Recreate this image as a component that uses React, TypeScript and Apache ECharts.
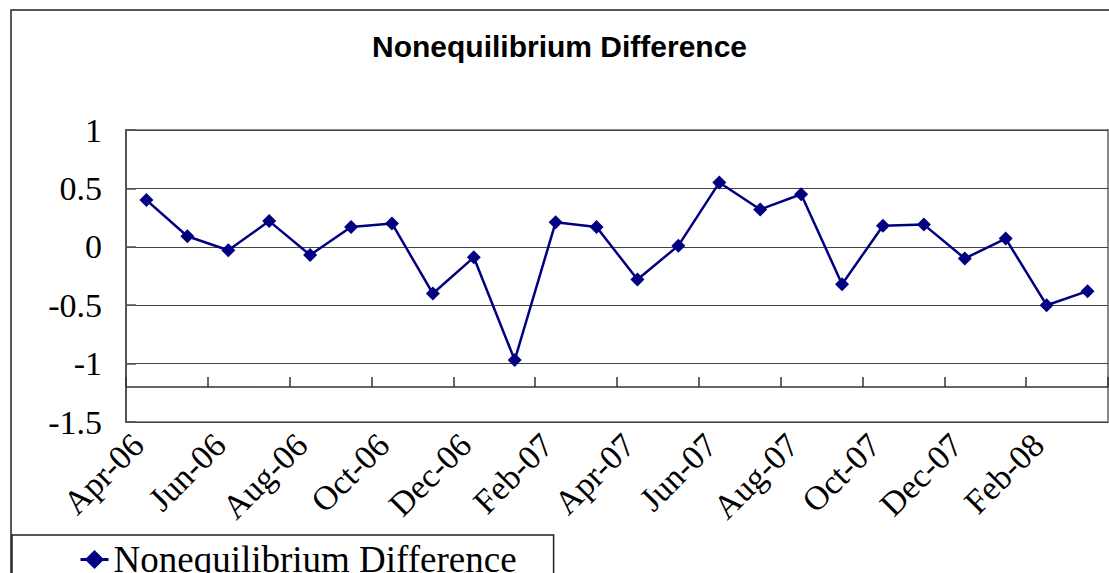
import React, { useEffect, useRef } from "react";
import * as echarts from "echarts";

const categories = [
  "Apr-06", "May-06", "Jun-06", "Jul-06", "Aug-06", "Sep-06", "Oct-06", "Nov-06",
  "Dec-06", "Jan-07", "Feb-07", "Mar-07", "Apr-07", "May-07", "Jun-07", "Jul-07",
  "Aug-07", "Sep-07", "Oct-07", "Nov-07", "Dec-07", "Jan-08", "Feb-08", "Mar-08",
];
const seriesName = "Nonequilibrium Difference";
const values = [
  0.40, 0.09, -0.03, 0.22, -0.07, 0.17, 0.20, -0.40,
  -0.09, -0.97, 0.21, 0.17, -0.28, 0.01, 0.55, 0.32,
  0.45, -0.32, 0.18, 0.19, -0.10, 0.07, -0.50, -0.38,
];
const Y_MIN = -1.5;
const Y_MAX = 1;
const Y_STEP = 0.5;
const X_CROSS = -1.2;

const W = 1109;
const H = 573;
const GRID = { left: 126, top: 130, right: 1, bottom: 151 };

export default function App() {
  const ref = useRef<HTMLDivElement>(null);
  useEffect(() => {
    if (!ref.current) return;
    const chart = echarts.init(ref.current, undefined, { renderer: "svg" });
    const gridH = H - GRID.top - GRID.bottom;
    const xOffset = -((X_CROSS - Y_MIN) / (Y_MAX - Y_MIN)) * gridH;
    const serif = "'Liberation Serif', 'DejaVu Serif', serif";
    chart.setOption({
      animation: false,
      backgroundColor: "#ffffff",
      title: {
        text: seriesName,
        left: 372,
        top: 31,
        padding: 0,
        textStyle: {
          fontFamily: "'Liberation Sans', Arial, sans-serif",
          fontWeight: "bold",
          fontSize: 30,
          color: "#000",
        },
      },
      graphic: [
        {
          type: "rect",
          z: -10,
          shape: { x: 11, y: 10, width: 1300, height: 1000 },
          style: { fill: "none", stroke: "#222", lineWidth: 1.5 },
        },
      ],
      legend: {
        left: 12,
        top: 535,
        padding: [6, 37, 6, 67],
        backgroundColor: "#fff",
        borderColor: "#222",
        borderWidth: 1.5,
        itemWidth: 28,
        itemHeight: 24,
        lineStyle: { width: 3 },
        textStyle: { fontFamily: serif, fontSize: 37, color: "#000" },
        data: [seriesName],
      },
      grid: {
        left: GRID.left,
        top: GRID.top,
        right: GRID.right,
        bottom: GRID.bottom,
        show: true,
        borderColor: "#888",
        borderWidth: 2,
        containLabel: false,
      },
      xAxis: {
        type: "category",
        data: categories,
        boundaryGap: true,
        position: "bottom",
        offset: xOffset,
        axisLine: { onZero: false, lineStyle: { color: "#333", width: 1.5 } },
        axisTick: { show: true, inside: true, length: 10, interval: 1, lineStyle: { color: "#333", width: 1.5 } },
        axisLabel: {
          interval: 1,
          rotate: 45,
          margin: 44,
          padding: [0, 12, 0, 0],
          fontFamily: serif,
          fontSize: 34,
          color: "#000",
        },
        splitLine: { show: false },
      },
      yAxis: {
        type: "value",
        min: Y_MIN,
        max: Y_MAX,
        interval: Y_STEP,
        axisLine: { show: true, lineStyle: { color: "#555", width: 2 } },
        axisTick: { show: true, inside: true, length: 10, lineStyle: { color: "#555", width: 1.5 } },
        axisLabel: {
          margin: 24,
          fontFamily: serif,
          fontSize: 34,
          color: "#000",
        },
        splitLine: { show: true, lineStyle: { color: "#444", width: 1 } },
      },
      series: [
        {
          name: seriesName,
          type: "line",
          data: values,
          symbol: "diamond",
          symbolSize: 14,
          color: "#000080",
          lineStyle: { color: "#000080", width: 2.5 },
          itemStyle: { color: "#000080" },
        },
      ],
    });
    return () => chart.dispose();
  }, []);
  return (
    <div
      ref={ref}
      style={{ position: "fixed", left: 0, top: 0, width: W, height: H }}
    />
  );
}
